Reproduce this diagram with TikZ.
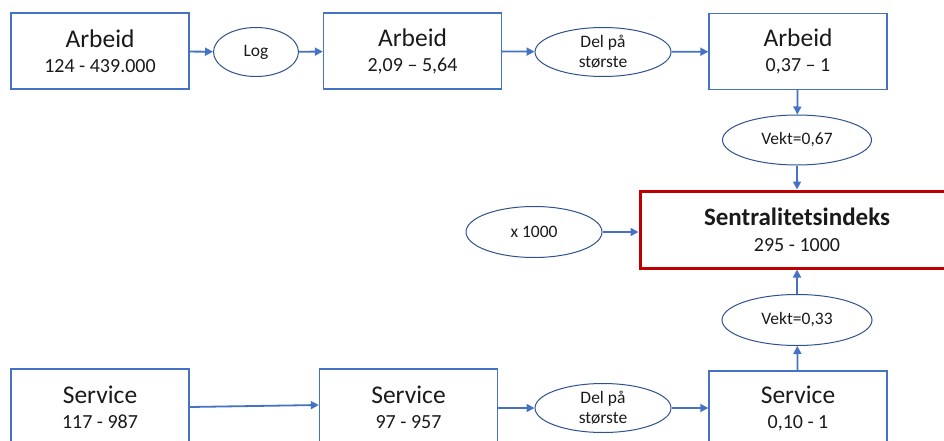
\documentclass[tikz,border=0pt]{standalone}
\usepackage{fontspec}
\setmainfont{Carlito}
\usetikzlibrary{arrows.meta,shapes.geometric}
\definecolor{boxblue}{HTML}{4472C4}
\definecolor{ellblue}{HTML}{2F528F}
\definecolor{redb}{HTML}{C00000}
\definecolor{txt}{HTML}{1A1A1A}
\newcommand{\ttl}[1]{{\fontsize{25.5}{25}\selectfont #1}}
\begin{document}
\begin{tikzpicture}[x=1pt,y=-1pt,
  box/.style={draw=boxblue,line width=1.4pt,rectangle,minimum width=178pt,minimum height=76pt,inner sep=0pt,align=center,text=txt,font=\fontsize{20}{25}\selectfont},
  ell/.style={draw=ellblue,line width=1pt,ellipse,inner sep=0pt,align=center,text=txt,font=\fontsize{17.5}{20}\selectfont},
  conn/.style={draw=boxblue,line width=1.8pt,-{Triangle[length=8pt,width=8pt]}}
]
\useasboundingbox (0,0) rectangle (944,441);
\clip (0,0) rectangle (944,441);
% top row
\node[box] (a1) at (100,51) {\ttl{Arbeid}\\124 - 439.000};
\node[ell,minimum width=85pt,minimum height=49pt] (log) at (256,52) {Log};
\node[box] (a2) at (412.5,51) {\ttl{Arbeid}\\2,09 – 5,64};
\node[ell,minimum width=136pt,minimum height=49pt] (del1) at (603,52) {Del på\\største};
\node[box] (a3) at (798,51.5) {\ttl{Arbeid}\\0,37 – 1};
% middle
\node[ell,minimum width=149pt,minimum height=50pt] (vekt1) at (797,140) {Vekt=0,67};
\node[draw=redb,line width=3pt,rectangle,minimum width=314pt,minimum height=77pt,inner sep=0pt,align=center,text=txt,font=\fontsize{20}{26}\selectfont] (sent) at (797,229.5)
  {{\fontsize{25}{26}\selectfont\bfseries Sentralitetsindeks}\\295 - 1000};
\node[ell,minimum width=136pt,minimum height=51pt] (x1000) at (534,232) {x 1000};
\node[ell,minimum width=150pt,minimum height=51pt] (vekt2) at (797,320) {Vekt=0,33};
% bottom row
\node[box] (s1) at (100,407) {\ttl{Service}\\117 - 987};
\node[box] (s2) at (408.5,407) {\ttl{Service}\\97 - 957};
\node[ell,minimum width=136pt,minimum height=49pt] (del2) at (603,408) {Del på\\største};
\node[box] (s3) at (798,409) {\ttl{Service}\\0,10 - 1};
% connectors
\draw[conn] (a1) -- (log);
\draw[conn] (log) -- (a2);
\draw[conn] (a2) -- (del1);
\draw[conn] (del1) -- (a3);
\draw[conn] (a3) -- (vekt1);
\draw[conn] (vekt1) -- (sent);
\draw[conn] (x1000) -- (sent.west |- x1000);
\draw[conn] (vekt2) -- (sent);
\draw[conn] (s3) -- (vekt2);
\draw[conn] (s1.east) -- ([yshift=2pt]s2.west);
\draw[conn] (s2.east |- del2) -- (del2);
\draw[conn] (del2) -- (s3.west |- del2);
\end{tikzpicture}
\end{document}
